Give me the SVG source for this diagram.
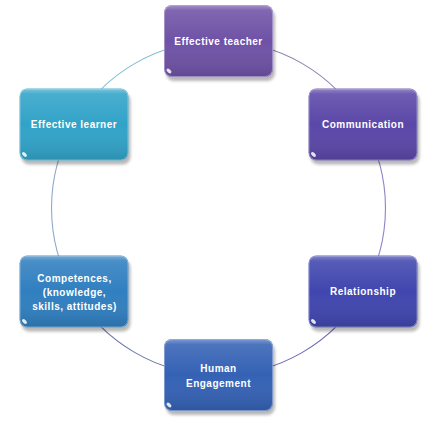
<svg xmlns="http://www.w3.org/2000/svg" width="436" height="430" viewBox="0 0 436 430">
<defs>
<linearGradient id="gloss" x1="0" y1="0" x2="0" y2="1">
<stop offset="0" stop-color="#fff" stop-opacity="0.35"/>
<stop offset="0.07" stop-color="#fff" stop-opacity="0.12"/>
<stop offset="0.5" stop-color="#fff" stop-opacity="0"/>
<stop offset="1" stop-color="#000" stop-opacity="0.12"/>
</linearGradient>
<filter id="shadow" x="-20%" y="-20%" width="140%" height="150%">
<feGaussianBlur stdDeviation="1.8"/>
</filter>
</defs>
<style>
.arc{fill:none;stroke-width:1.1}
.sh{fill:#000;opacity:0.28;filter:url(#shadow)}
.ov{fill:url(#gloss);stroke:#fff;stroke-opacity:0.35;stroke-width:1}
.gl{fill:#fff;opacity:0.85}
.t{font-family:"Liberation Sans",Arial,sans-serif;font-weight:bold;font-size:10px;letter-spacing:0.5px;fill:#fff;text-anchor:middle}
</style>
<rect width="436" height="430" fill="#fff"/>
<g id="connectors">
<path class="arc" stroke="#8c7fae" d="M218.5 41 A167 167 0 0 1 363.1 124.5"/>
<path class="arc" stroke="#8a86c8" d="M363.1 124.5 A167 167 0 0 1 363.1 291.5"/>
<path class="arc" stroke="#6a68b4" d="M363.1 291.5 A167 167 0 0 1 218.5 375"/>
<path class="arc" stroke="#6a78a8" d="M218.5 375 A167 167 0 0 1 73.9 291.5"/>
<path class="arc" stroke="#90aac8" d="M73.9 291.5 A167 167 0 0 1 73.9 124.5"/>
<path class="arc" stroke="#80bcd2" d="M73.9 124.5 A167 167 0 0 1 218.5 41"/>
</g>
<g id="n-teacher">
<rect class="sh" x="166" y="9" width="109" height="72" rx="8"/>
<rect x="164" y="5" width="109" height="72" rx="8" fill="#6f52a6"/>
<rect class="ov" x="164.5" y="5.5" width="108" height="71" rx="7.5"/>
<ellipse class="gl" cx="169" cy="71" rx="3" ry="1.6" transform="rotate(45 169 71)"/>
<text class="t" x="218.5" y="44.5">Effective teacher</text>
</g>
<g id="n-communication">
<rect class="sh" x="310.5" y="92.5" width="109" height="72" rx="8"/>
<rect x="308.5" y="88.5" width="109" height="72" rx="8" fill="#5b47a8"/>
<rect class="ov" x="309" y="89" width="108" height="71" rx="7.5"/>
<ellipse class="gl" cx="313.5" cy="154.5" rx="3" ry="1.6" transform="rotate(45 313.5 154.5)"/>
<text class="t" x="363" y="128">Communication</text>
</g>
<g id="n-relationship">
<rect class="sh" x="310.5" y="259.5" width="109" height="72" rx="8"/>
<rect x="308.5" y="255.5" width="109" height="72" rx="8" fill="#4046ae"/>
<rect class="ov" x="309" y="256" width="108" height="71" rx="7.5"/>
<ellipse class="gl" cx="313.5" cy="321.5" rx="3" ry="1.6" transform="rotate(45 313.5 321.5)"/>
<text class="t" x="363" y="295">Relationship</text>
</g>
<g id="n-human">
<rect class="sh" x="166" y="343" width="109" height="72" rx="8"/>
<rect x="164" y="339" width="109" height="72" rx="8" fill="#3562b5"/>
<rect class="ov" x="164.5" y="339.5" width="108" height="71" rx="7.5"/>
<ellipse class="gl" cx="169" cy="405" rx="3" ry="1.6" transform="rotate(45 169 405)"/>
<text class="t" x="218.5" y="372">Human</text>
<text class="t" x="218.5" y="387">Engagement</text>
</g>
<g id="n-competences">
<rect class="sh" x="21.5" y="259.5" width="109" height="72" rx="8"/>
<rect x="19.5" y="255.5" width="109" height="72" rx="8" fill="#307fc0"/>
<rect class="ov" x="20" y="256" width="108" height="71" rx="7.5"/>
<ellipse class="gl" cx="24.5" cy="321.5" rx="3" ry="1.6" transform="rotate(45 24.5 321.5)"/>
<text class="t" x="74.5" y="281.5">Competences,</text>
<text class="t" x="74.5" y="296">(knowledge,</text>
<text class="t" x="74.5" y="310">skills, attitudes)</text>
</g>
<g id="n-learner">
<rect class="sh" x="21.5" y="92.5" width="109" height="72" rx="8"/>
<rect x="19.5" y="88.5" width="109" height="72" rx="8" fill="#31a3c8"/>
<rect class="ov" x="20" y="89" width="108" height="71" rx="7.5"/>
<ellipse class="gl" cx="24.5" cy="154.5" rx="3" ry="1.6" transform="rotate(45 24.5 154.5)"/>
<text class="t" x="74" y="128">Effective learner</text>
</g>
</svg>
